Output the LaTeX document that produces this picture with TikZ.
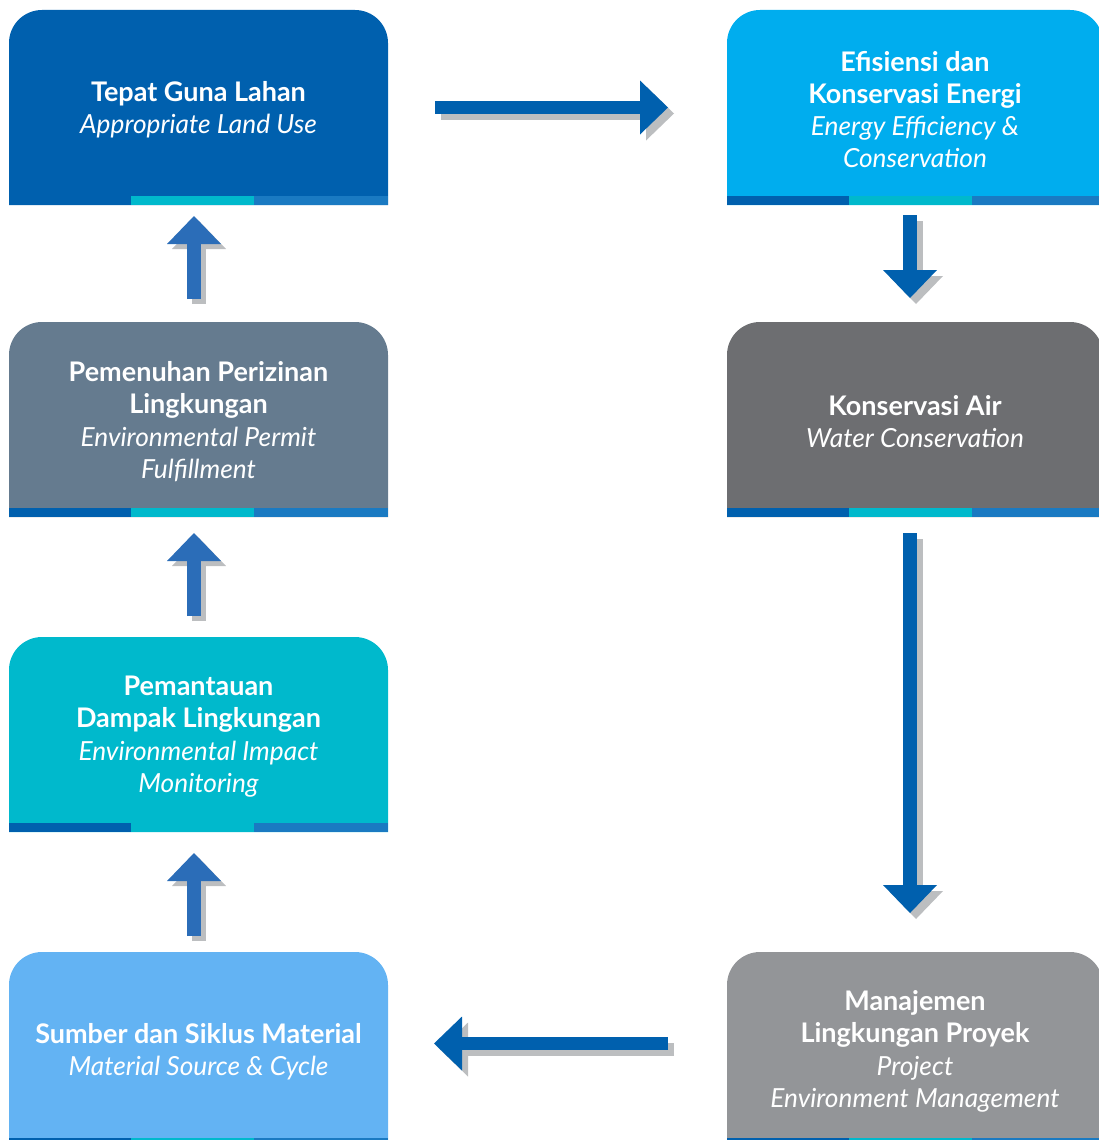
\documentclass[tikz,border=0pt]{standalone}
\usepackage{fontspec}
\setmainfont{Lato}
\usetikzlibrary{arrows.meta}

\definecolor{cardA}{HTML}{0060AE}
\definecolor{cardB}{HTML}{00ADEE}
\definecolor{cardC}{HTML}{657B8F}
\definecolor{cardD}{HTML}{6D6E71}
\definecolor{cardE}{HTML}{00B9CC}
\definecolor{cardF}{HTML}{63B3F3}
\definecolor{cardG}{HTML}{939598}
\definecolor{stripA}{HTML}{0060AE}
\definecolor{stripB}{HTML}{00B9CC}
\definecolor{stripC}{HTML}{1A7AC2}
\definecolor{arrowmain}{HTML}{0060AE}
\definecolor{arrowup}{HTML}{2B6DB8}
\definecolor{arrowshade}{HTML}{BCBEC0}

\newcommand\headline[1]{{\fontsize{27}{32.3}\selectfont\bfseries #1}}
\newcommand\subline[1]{{\fontsize{26.3}{32.3}\selectfont\itshape #1}}

% card: name, left x, top y, width, fill colour, text
\newcommand\drawcard[6]{%
  \fill[#5] (#2,#3+195) -- (#2,#3+33)
    arc[start angle=180, end angle=270, radius=33]
    -- (#2+#4-33,#3)
    arc[start angle=270, end angle=360, radius=33]
    -- (#2+#4,#3+195) -- cycle;
  \fill[stripA] (#2,#3+186) rectangle (#2+122,#3+195);
  \fill[stripB] (#2+122,#3+186) rectangle (#2+245,#3+195);
  \fill[stripC] (#2+245,#3+186) rectangle (#2+#4,#3+195);
  \node[cardtext] (#1) at (#2+#4/2,#3+99.5) {#6};
}

\begin{document}
\begin{tikzpicture}[x=1pt,y=-1pt,
  cardtext/.style={text=white, align=center, inner sep=0pt,
    font=\fontsize{26}{32.3}\selectfont},
  blockarrow/.style={line width=13.5pt,
    -{Triangle[length=28pt,width=54pt,line width=0pt]}},
  mainarrow/.style={blockarrow, draw=arrowmain},
  uparrow/.style={blockarrow, draw=arrowup},
  dropshadow/.style={blockarrow, draw=arrowshade,
    transform canvas={shift={(#1,#1)}}}]
\useasboundingbox (0,0) rectangle (1099,1140);
\clip (0,0) rectangle (1099,1140);

% left column
\drawcard{tgl}{9}{10}{379}{cardA}{\headline{Tepat Guna Lahan}\\\subline{Appropriate Land Use}}
\drawcard{ppl}{9}{322}{379}{cardC}{\headline{Pemenuhan Perizinan}\\\headline{Lingkungan}\\\subline{Environmental Permit}\\\subline{Fulfillment}}
\drawcard{pdl}{9}{637}{379}{cardE}{\headline{Pemantauan}\\\headline{Dampak Lingkungan}\\\subline{Environmental Impact}\\\subline{Monitoring}}
\drawcard{sms}{9}{952}{379}{cardF}{\headline{Sumber dan Siklus Material}\\\subline{Material Source \& Cycle}}

% right column
\drawcard{eke}{727}{10}{376}{cardB}{\headline{Efisiensi dan}\\\headline{Konservasi Energi}\\\subline{Energy Efficiency \&}\\\subline{Conservation}}
\drawcard{ka}{727}{322}{376}{cardD}{\headline{Konservasi Air}\\\subline{Water Conservation}}
\drawcard{mlp}{727}{952}{376}{cardG}{\headline{Manajemen}\\\headline{Lingkungan Proyek}\\\subline{Project}\\\subline{Environment Management}}

% arrow ends
\coordinate (r1s) at (435,107.5);  \coordinate (r1e) at (668,107.5);
\coordinate (d1s) at (910,215);    \coordinate (d1e) at (910,298);
\coordinate (d2s) at (910,533);    \coordinate (d2e) at (910,913);
\coordinate (l1s) at (668,1043.5); \coordinate (l1e) at (434,1043.5);
\coordinate (u3s) at (194,936);    \coordinate (u3e) at (194,853);
\coordinate (u2s) at (194,616);    \coordinate (u2e) at (194,533);
\coordinate (u1s) at (194,299);    \coordinate (u1e) at (194,216);

% shadows
\draw[dropshadow=6] (r1s) -- (r1e);
\draw[dropshadow=6] (d1s) -- (d1e);
\draw[dropshadow=6] (d2s) -- (d2e);
\draw[dropshadow=6] (l1s) -- (l1e);
\draw[dropshadow=5] (u3s) -- (u3e);
\draw[dropshadow=5] (u2s) -- (u2e);
\draw[dropshadow=5] (u1s) -- (u1e);

% arrows
\draw[mainarrow] (r1s) -- (r1e);
\draw[mainarrow] (d1s) -- (d1e);
\draw[mainarrow] (d2s) -- (d2e);
\draw[mainarrow] (l1s) -- (l1e);
\draw[uparrow] (u3s) -- (u3e);
\draw[uparrow] (u2s) -- (u2e);
\draw[uparrow] (u1s) -- (u1e);
\end{tikzpicture}
\end{document}
